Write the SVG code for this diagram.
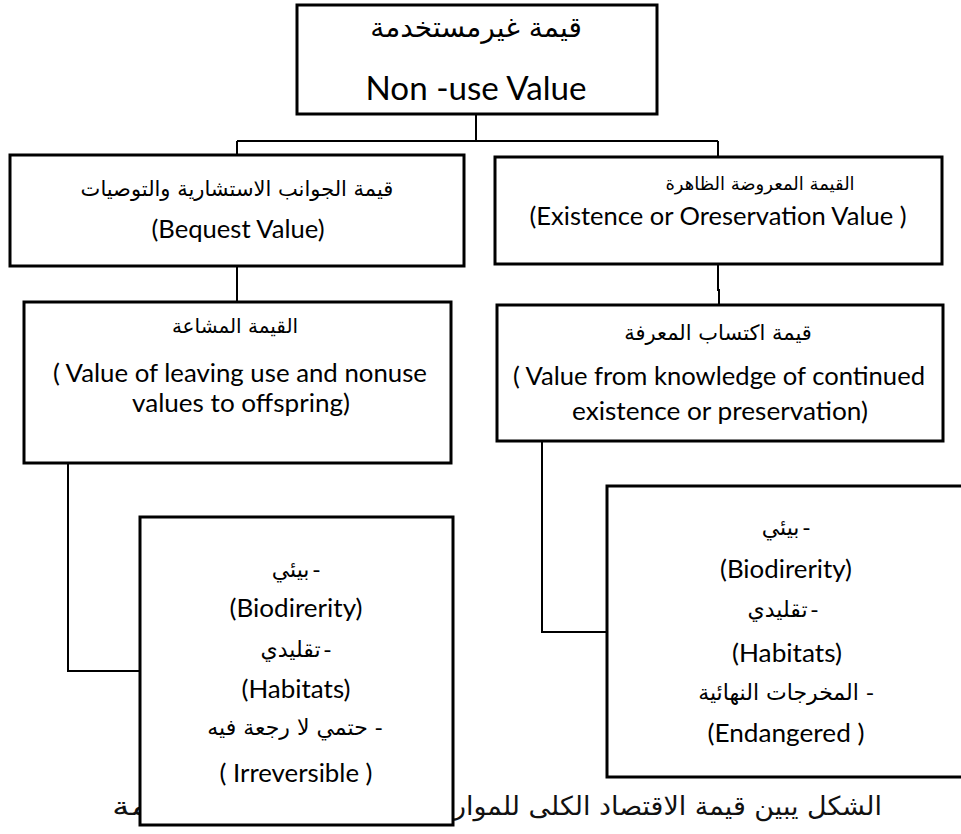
<svg xmlns="http://www.w3.org/2000/svg" width="961" height="834" viewBox="0 0 961 834">
  <style>
    .box { fill: #fff; stroke: #000; stroke-width: 3; }
    .link { fill: none; stroke: #000; stroke-width: 2; }
    .en { font-family: Lato, "Liberation Sans", sans-serif; font-size: 25px; text-anchor: middle; fill: #000; }
    .ar { font-family: "DejaVu Sans", sans-serif; font-size: 21px; text-anchor: middle; fill: #000; }
    .item { font-size: 22px; }
    .tight { word-spacing: -4px; }
    .cap { font-family: "DejaVu Sans", sans-serif; font-size: 26px; text-anchor: start; fill: #111; }
  </style>
  <rect width="961" height="834" fill="#fff"/>

  <!-- caption sits behind the lower-left box -->
  <text class="cap" y="815" direction="rtl"><tspan x="882" textLength="429" lengthAdjust="spacingAndGlyphs">الشكل  يبين قيمة الاقتصاد الكلى للموار</tspan><tspan x="453" textLength="341" lengthAdjust="spacingAndGlyphs">د البيئية غير المستخدمة</tspan></text>

  <g id="connectors">
    <path class="link" d="M476 114 V141 M237 141 H718 M237 141 V155 M718 141 V157"/>
    <path class="link" d="M237 266 V302"/>
    <path class="link" d="M718 264 V290 H719 V305"/>
    <path class="link" d="M68 463 V671 H140"/>
    <path class="link" d="M542 441 V632 H607"/>
  </g>

  <g id="node-nonuse">
    <rect class="box" x="297" y="5" width="360" height="109"/>
    <text class="ar" x="476" y="37" direction="rtl" style="font-size:28px">قيمة غيرمستخدمة</text>
    <text class="en" x="476" y="100" style="font-size:33px" textLength="221" lengthAdjust="spacingAndGlyphs">Non -use Value</text>
  </g>

  <g id="node-bequest">
    <rect class="box" x="10" y="155" width="454" height="111"/>
    <text class="ar" x="237" y="196" direction="rtl">قيمة الجوانب الاستشارية والتوصيات</text>
    <text class="en" x="238" y="238" textLength="173" lengthAdjust="spacingAndGlyphs">(Bequest Value)</text>
  </g>

  <g id="node-existence">
    <rect class="box" x="495" y="157" width="447" height="107"/>
    <text class="ar" x="760" y="190" direction="rtl" style="font-size:18px">القيمة المعروضة الظاهرة</text>
    <text class="en" x="718" y="225" textLength="377" lengthAdjust="spacingAndGlyphs">(Existence or Oreservation Value )</text>
  </g>

  <g id="node-offspring">
    <rect class="box" x="24" y="302" width="427" height="161"/>
    <text class="ar" x="235" y="333" direction="rtl" style="font-size:20px">القيمة المشاعة</text>
    <text class="en" x="240" y="382" textLength="374" lengthAdjust="spacingAndGlyphs">( Value of leaving use and nonuse</text>
    <text class="en" x="241" y="412" textLength="218" lengthAdjust="spacingAndGlyphs">values to offspring)</text>
  </g>

  <g id="node-knowledge">
    <rect class="box" x="497" y="305" width="446" height="136"/>
    <text class="ar" x="718" y="340" direction="rtl">قيمة اكتساب المعرفة</text>
    <text class="en" x="719" y="385" textLength="412" lengthAdjust="spacingAndGlyphs">( Value from knowledge of continued</text>
    <text class="en" x="720" y="420" textLength="296" lengthAdjust="spacingAndGlyphs">existence or preservation)</text>
  </g>

  <g id="node-irreversible">
    <rect class="box" x="140" y="517" width="313" height="308"/>
    <text class="ar item tight" x="296" y="577" direction="rtl">- بيئي</text>
    <text class="en" x="296" y="617" textLength="133" lengthAdjust="spacingAndGlyphs">(Biodirerity)</text>
    <text class="ar item tight" x="296" y="657" direction="rtl">- تقليدي</text>
    <text class="en" x="296" y="698" textLength="109" lengthAdjust="spacingAndGlyphs">(Habitats)</text>
    <text class="ar item" x="295" y="735" direction="rtl">- حتمي لا رجعة فيه</text>
    <text class="en" x="296" y="782" textLength="153" lengthAdjust="spacingAndGlyphs">( Irreversible )</text>
  </g>

  <g id="node-endangered">
    <rect class="box" x="607" y="486" width="370" height="291"/>
    <text class="ar item tight" x="786" y="535" direction="rtl">- بيئي</text>
    <text class="en" x="786" y="578" textLength="132" lengthAdjust="spacingAndGlyphs">(Biodirerity)</text>
    <text class="ar item tight" x="783" y="617" direction="rtl">- تقليدي</text>
    <text class="en" x="787" y="662" textLength="110" lengthAdjust="spacingAndGlyphs">(Habitats)</text>
    <text class="ar item" x="786" y="700" direction="rtl">- المخرجات النهائية</text>
    <text class="en" x="786" y="742" textLength="157" lengthAdjust="spacingAndGlyphs">(Endangered )</text>
  </g>
</svg>
